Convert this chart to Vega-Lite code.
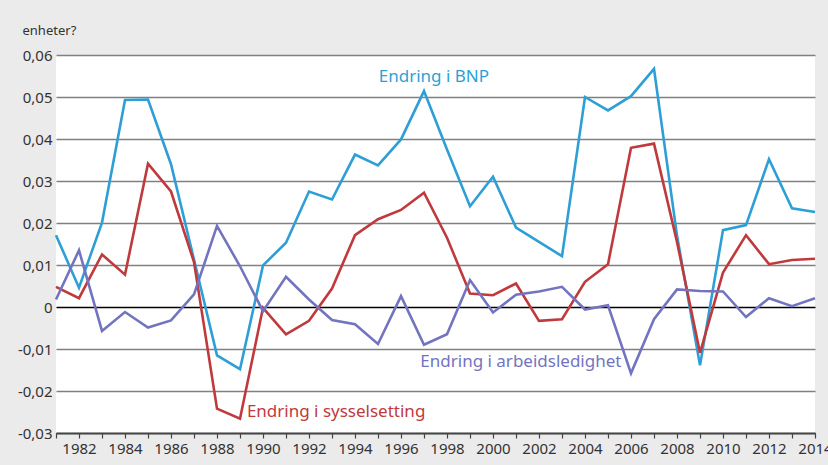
{
  "$schema": "https://vega.github.io/schema/vega-lite/v6.json",
  "autosize": "none",
  "width": 759,
  "height": 378,
  "padding": {"left": 56, "top": 55, "right": 13, "bottom": 32},
  "background": "#ebebeb",
  "config": {
    "view": {"stroke": null, "fill": "#ffffff"},
    "font": "Noto Sans",
    "axis": {"labelFont": "Noto Sans", "labelFontSize": 14, "labelColor": "#333333", "titleFont": "Noto Sans"}
  },
  "resolve": {"axis": {"x": "independent"}},
  "datasets": {
    "lines": [
      {"year": 1981, "series": "BNP", "value": 0.0171},
      {"year": 1982, "series": "BNP", "value": 0.0046},
      {"year": 1983, "series": "BNP", "value": 0.0201},
      {"year": 1984, "series": "BNP", "value": 0.0493},
      {"year": 1985, "series": "BNP", "value": 0.0494},
      {"year": 1986, "series": "BNP", "value": 0.034},
      {"year": 1987, "series": "BNP", "value": 0.0113},
      {"year": 1988, "series": "BNP", "value": -0.0115},
      {"year": 1989, "series": "BNP", "value": -0.0148},
      {"year": 1990, "series": "BNP", "value": 0.0099},
      {"year": 1991, "series": "BNP", "value": 0.0153},
      {"year": 1992, "series": "BNP", "value": 0.0275},
      {"year": 1993, "series": "BNP", "value": 0.0256},
      {"year": 1994, "series": "BNP", "value": 0.0363},
      {"year": 1995, "series": "BNP", "value": 0.0337},
      {"year": 1996, "series": "BNP", "value": 0.0399},
      {"year": 1997, "series": "BNP", "value": 0.0514},
      {"year": 1998, "series": "BNP", "value": 0.0375},
      {"year": 1999, "series": "BNP", "value": 0.024},
      {"year": 2000, "series": "BNP", "value": 0.031},
      {"year": 2001, "series": "BNP", "value": 0.0189},
      {"year": 2002, "series": "BNP", "value": 0.0155},
      {"year": 2003, "series": "BNP", "value": 0.0121},
      {"year": 2004, "series": "BNP", "value": 0.05},
      {"year": 2005, "series": "BNP", "value": 0.0468},
      {"year": 2006, "series": "BNP", "value": 0.0502},
      {"year": 2007, "series": "BNP", "value": 0.0567},
      {"year": 2008, "series": "BNP", "value": 0.017},
      {"year": 2009, "series": "BNP", "value": -0.0139},
      {"year": 2010, "series": "BNP", "value": 0.0183},
      {"year": 2011, "series": "BNP", "value": 0.0195},
      {"year": 2012, "series": "BNP", "value": 0.0352},
      {"year": 2013, "series": "BNP", "value": 0.0235},
      {"year": 2014, "series": "BNP", "value": 0.0226},
      {"year": 1981, "series": "Sysselsetting", "value": 0.0048},
      {"year": 1982, "series": "Sysselsetting", "value": 0.0021},
      {"year": 1983, "series": "Sysselsetting", "value": 0.0125},
      {"year": 1984, "series": "Sysselsetting", "value": 0.0077},
      {"year": 1985, "series": "Sysselsetting", "value": 0.0341},
      {"year": 1986, "series": "Sysselsetting", "value": 0.0275},
      {"year": 1987, "series": "Sysselsetting", "value": 0.0107},
      {"year": 1988, "series": "Sysselsetting", "value": -0.0242},
      {"year": 1989, "series": "Sysselsetting", "value": -0.0266},
      {"year": 1990, "series": "Sysselsetting", "value": -0.0002},
      {"year": 1991, "series": "Sysselsetting", "value": -0.0065},
      {"year": 1992, "series": "Sysselsetting", "value": -0.0033},
      {"year": 1993, "series": "Sysselsetting", "value": 0.0044},
      {"year": 1994, "series": "Sysselsetting", "value": 0.0171},
      {"year": 1995, "series": "Sysselsetting", "value": 0.0209},
      {"year": 1996, "series": "Sysselsetting", "value": 0.0231},
      {"year": 1997, "series": "Sysselsetting", "value": 0.0272},
      {"year": 1998, "series": "Sysselsetting", "value": 0.0165},
      {"year": 1999, "series": "Sysselsetting", "value": 0.0032},
      {"year": 2000, "series": "Sysselsetting", "value": 0.0028},
      {"year": 2001, "series": "Sysselsetting", "value": 0.0056},
      {"year": 2002, "series": "Sysselsetting", "value": -0.0033},
      {"year": 2003, "series": "Sysselsetting", "value": -0.0029},
      {"year": 2004, "series": "Sysselsetting", "value": 0.006},
      {"year": 2005, "series": "Sysselsetting", "value": 0.0102},
      {"year": 2006, "series": "Sysselsetting", "value": 0.0379},
      {"year": 2007, "series": "Sysselsetting", "value": 0.0389},
      {"year": 2008, "series": "Sysselsetting", "value": 0.0155},
      {"year": 2009, "series": "Sysselsetting", "value": -0.0109},
      {"year": 2010, "series": "Sysselsetting", "value": 0.0082},
      {"year": 2011, "series": "Sysselsetting", "value": 0.0171},
      {"year": 2012, "series": "Sysselsetting", "value": 0.0102},
      {"year": 2013, "series": "Sysselsetting", "value": 0.0112},
      {"year": 2014, "series": "Sysselsetting", "value": 0.0115},
      {"year": 1981, "series": "Arbeidsledighet", "value": 0.0018},
      {"year": 1982, "series": "Arbeidsledighet", "value": 0.0135},
      {"year": 1983, "series": "Arbeidsledighet", "value": -0.0057},
      {"year": 1984, "series": "Arbeidsledighet", "value": -0.0012},
      {"year": 1985, "series": "Arbeidsledighet", "value": -0.0049},
      {"year": 1986, "series": "Arbeidsledighet", "value": -0.0032},
      {"year": 1987, "series": "Arbeidsledighet", "value": 0.003},
      {"year": 1988, "series": "Arbeidsledighet", "value": 0.0193},
      {"year": 1989, "series": "Arbeidsledighet", "value": 0.0097},
      {"year": 1990, "series": "Arbeidsledighet", "value": -0.001},
      {"year": 1991, "series": "Arbeidsledighet", "value": 0.0072},
      {"year": 1992, "series": "Arbeidsledighet", "value": 0.0018},
      {"year": 1993, "series": "Arbeidsledighet", "value": -0.0031},
      {"year": 1994, "series": "Arbeidsledighet", "value": -0.0041},
      {"year": 1995, "series": "Arbeidsledighet", "value": -0.0088},
      {"year": 1996, "series": "Arbeidsledighet", "value": 0.0026},
      {"year": 1997, "series": "Arbeidsledighet", "value": -0.009},
      {"year": 1998, "series": "Arbeidsledighet", "value": -0.0065},
      {"year": 1999, "series": "Arbeidsledighet", "value": 0.0064},
      {"year": 2000, "series": "Arbeidsledighet", "value": -0.0013},
      {"year": 2001, "series": "Arbeidsledighet", "value": 0.0029},
      {"year": 2002, "series": "Arbeidsledighet", "value": 0.0037},
      {"year": 2003, "series": "Arbeidsledighet", "value": 0.0048},
      {"year": 2004, "series": "Arbeidsledighet", "value": -0.0006},
      {"year": 2005, "series": "Arbeidsledighet", "value": 0.0004},
      {"year": 2006, "series": "Arbeidsledighet", "value": -0.0158},
      {"year": 2007, "series": "Arbeidsledighet", "value": -0.0029},
      {"year": 2008, "series": "Arbeidsledighet", "value": 0.0042},
      {"year": 2009, "series": "Arbeidsledighet", "value": 0.0038},
      {"year": 2010, "series": "Arbeidsledighet", "value": 0.0037},
      {"year": 2011, "series": "Arbeidsledighet", "value": -0.0024},
      {"year": 2012, "series": "Arbeidsledighet", "value": 0.0021},
      {"year": 2013, "series": "Arbeidsledighet", "value": 0.0002},
      {"year": 2014, "series": "Arbeidsledighet", "value": 0.0021}
    ],
    "labels": [
      {"series": "BNP", "text": "Endring i BNP"},
      {"series": "Sysselsetting", "text": "Endring i sysselsetting"},
      {"series": "Arbeidsledighet", "text": "Endring i arbeidsledighet"}
    ]
  },
  "layer": [
    {
      "data": {"name": "lines"},
      "mark": {"type": "line", "strokeWidth": 2.6, "strokeJoin": "miter"},
      "encoding": {
        "x": {
          "field": "year", "type": "quantitative",
          "scale": {"domain": [1981, 2014], "nice": false, "zero": false},
          "axis": {
            "orient": "bottom",
            "title": null,
            "values": [1981,1983,1985,1987,1989,1991,1993,1995,1997,1999,2001,2003,2005,2007,2009,2011,2013],
            "labels": false,
            "grid": false,
            "domainColor": "#444444",
            "domainWidth": 1.5,
            "tickColor": "#444444",
            "tickWidth": 1.2,
            "tickSize": 5
          }
        },
        "y": {
          "field": "value", "type": "quantitative",
          "scale": {"domain": [-0.03, 0.06], "nice": false, "zero": false},
          "axis": {
            "title": "enheter?",
            "titleAngle": 0,
            "titleAlign": "left",
            "titleBaseline": "middle",
            "titleX": -34,
            "titleY": -25,
            "titleFontSize": 13,
            "titleFontWeight": "normal",
            "titleColor": "#333333",
            "values": [-0.03, -0.02, -0.01, 0, 0.01, 0.02, 0.03, 0.04, 0.05, 0.06],
            "labelExpr": "datum.value == 0 ? '0' : replace(replace(format(datum.value, '.2f'), '−', '-'), '.', ',')",
            "labelPadding": 4,
            "labelFontSize": 15,
            "ticks": false,
            "domain": false,
            "grid": true,
            "gridColor": {"condition": {"test": "datum.value == 0", "value": "#000000"}, "value": "#808080"},
            "gridWidth": 1.5,
            "gridOpacity": 1
          }
        },
        "color": {
          "field": "series", "type": "nominal",
          "scale": {"domain": ["BNP", "Sysselsetting", "Arbeidsledighet"], "range": ["#2e9fd6", "#c0393d", "#7374bf"]},
          "legend": null
        }
      }
    },
    {
      "data": {"name": "labels"},
      "transform": [{"filter": "datum.series == 'BNP'"}],
      "mark": {"type": "text", "font": "Noto Sans", "fontSize": 17, "align": "center", "baseline": "middle", "color": "#2e9fd6"},
      "encoding": {
        "x": {
          "datum": 1997.43, "type": "quantitative",
          "axis": {
            "orient": "bottom",
            "title": null,
            "format": "d",
            "values": [1982,1984,1986,1988,1990,1992,1994,1996,1998,2000,2002,2004,2006,2008,2010,2012,2014],
            "labelOverlap": false,
            "labelFlush": false,
            "labelPadding": 3,
            "labelFontSize": 15,
            "grid": false,
            "domainColor": "#444444",
            "domainWidth": 1.5,
            "tickColor": "#444444",
            "tickWidth": 1.2,
            "tickSize": 5
          }
        },
        "y": {"datum": 0.0547},
        "text": {"field": "text"}
      }
    },
    {
      "data": {"name": "labels"},
      "transform": [{"filter": "datum.series == 'Sysselsetting'"}],
      "mark": {"type": "text", "font": "Noto Sans", "fontSize": 17, "align": "left", "baseline": "middle", "color": "#c0393d"},
      "encoding": {"x": {"datum": 1989.3, "axis": null}, "y": {"datum": -0.0251}, "text": {"field": "text"}}
    },
    {
      "data": {"name": "labels"},
      "transform": [{"filter": "datum.series == 'Arbeidsledighet'"}],
      "mark": {"type": "text", "font": "Noto Sans", "fontSize": 17, "align": "left", "baseline": "middle", "color": "#7374bf"},
      "encoding": {"x": {"datum": 1996.84, "axis": null}, "y": {"datum": -0.0132}, "text": {"field": "text"}}
    }
  ]
}
